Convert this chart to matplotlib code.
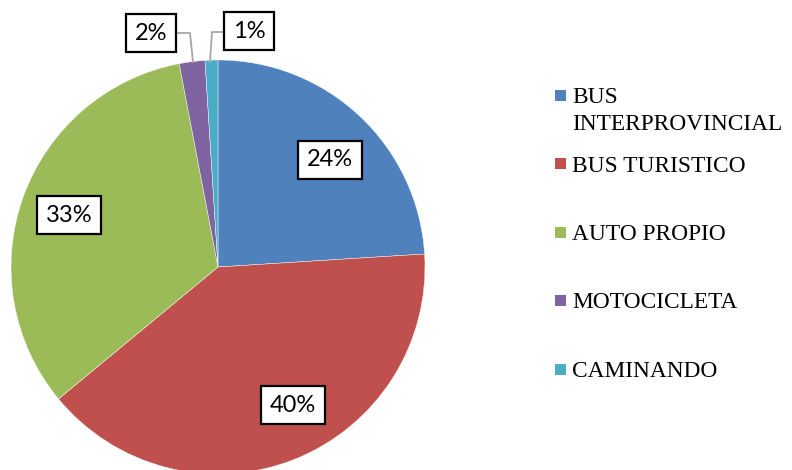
import matplotlib.pyplot as plt
from matplotlib.patches import Rectangle

# datos
categorias = ['BUS\nINTERPROVINCIAL', 'BUS TURISTICO', 'AUTO PROPIO', 'MOTOCICLETA', 'CAMINANDO']
porcentajes = [24, 40, 33, 2, 1]
colores = ['#4F81BD', '#C0504D', '#9BBB59', '#8064A2', '#4BACC6']

W, H = 792, 470

fig = plt.figure(figsize=(W / 100, H / 100), dpi=100)
ax = fig.add_axes([0, 0, 1, 1])

# pastel (coordenadas en pixeles, y desde abajo)
ax.pie(porcentajes, colors=colores, startangle=90, counterclock=False,
       center=(218, H - 267), radius=207,
       wedgeprops=dict(edgecolor='white', linewidth=0.3))

# pie() cambia los limites, se fijan despues
ax.set_xlim(0, W)
ax.set_ylim(0, H)
ax.set_aspect('equal')
ax.axis('off')

# etiquetas con recuadro
pos_etiquetas = [(330, 160), (293, 405), (69, 215), (151, 33), (249, 31)]
for val, (x, y) in zip(porcentajes, pos_etiquetas):
    ax.text(x, H - y, f'{val}%', ha='center', va='center', fontsize=17,
            family=['Lato', 'DejaVu Sans'], color='black', zorder=5,
            bbox=dict(boxstyle='square,pad=0.36', fc='white', ec='black', lw=1.6))

# lineas guia para 2% y 1%
ax.plot([178, 190, 193], [H - 33, H - 33, H - 62], color='#A6A6A6', lw=1.3, zorder=4)
ax.plot([223, 212, 210], [H - 32, H - 32, H - 62], color='#A6A6A6', lw=1.3, zorder=4)

# leyenda manual
y0, dy = 95, 68.5
for i, (cat, col) in enumerate(zip(categorias, colores)):
    yc = y0 + i * dy
    ax.add_patch(Rectangle((555, H - yc - 5.5), 11, 11, color=col, lw=0))
    for j, linea in enumerate(cat.split('\n')):
        ax.text(572, H - yc - j * 27, linea, ha='left', va='center_baseline',
                fontsize=16.8, family=['Liberation Serif', 'DejaVu Serif'], color='black')

fig.savefig('out.png', dpi=100)
